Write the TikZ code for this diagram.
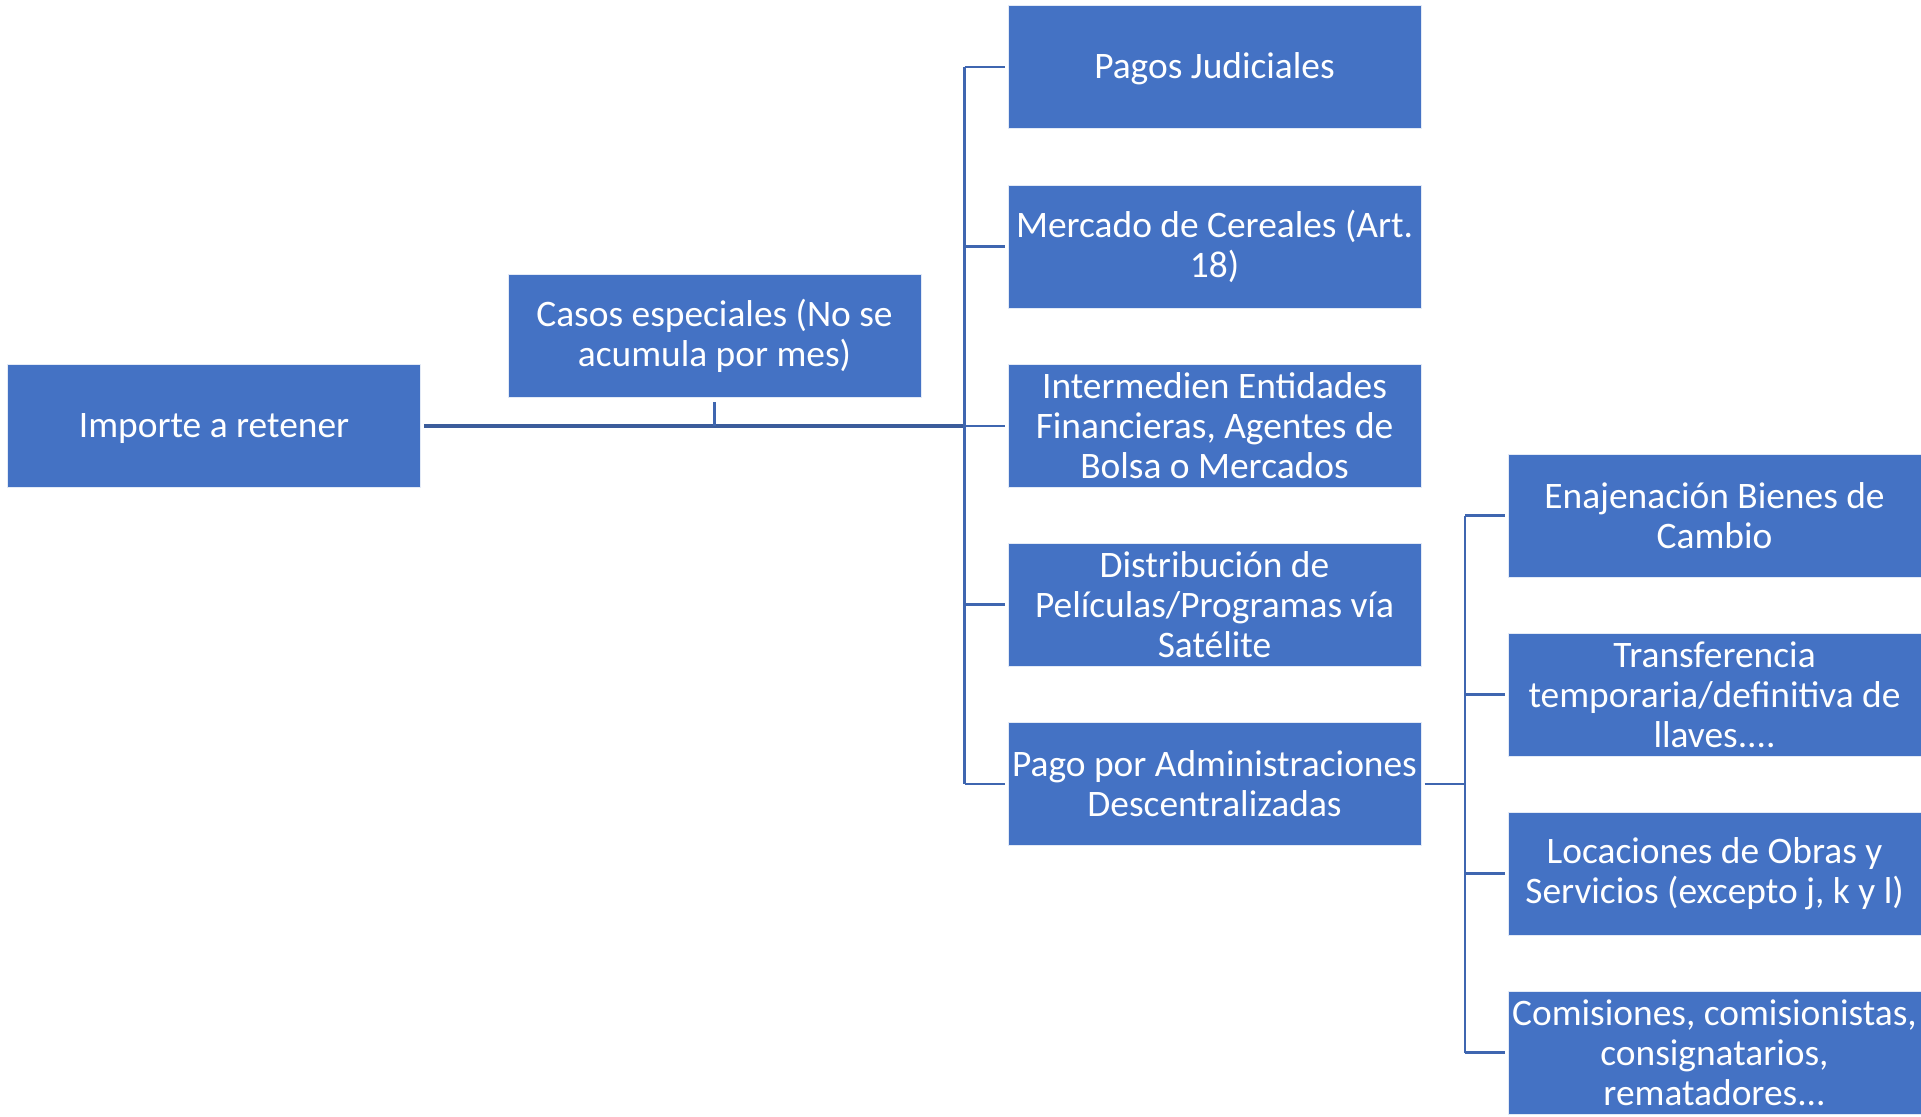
\documentclass[tikz,border=0pt]{standalone}
\usepackage{fontspec}
\setmainfont{Carlito}
\definecolor{boxfill}{HTML}{4472C4}
\definecolor{thickln}{HTML}{3B5C9B}
\definecolor{thinln}{HTML}{3F66B0}
\newcommand\lowertext[1]{\raisebox{-5.8pt}[0pt][0pt]{#1}}
\begin{document}
\begin{tikzpicture}[x=0.5pt,y=-0.5pt,
  box/.style={rectangle, fill=boxfill, draw=white!85!boxfill, line width=0.5pt,
    minimum width=206.5pt, minimum height=61.5pt, inner sep=0pt, align=center,
    text=white, font=\fontsize{18.7}{20}\selectfont},
  thinline/.style={draw=thinln, line width=1.25pt},
  thickline/.style={draw=thickln, line width=2pt}]
\useasboundingbox (0,0) rectangle (1921,1116);
% nodes
\node[box] (imp) at (214,426) {\lowertext{Importe a retener}};
\node[box] (casos) at (714.5,336) {Casos especiales (No se\\acumula por mes)};
\node[box] (n1) at (1214.5,67) {\lowertext{Pagos Judiciales}};
\node[box] (n2) at (1214.5,246.5) {Mercado de Cereales (Art.\\18)};
\node[box] (n3) at (1214.5,426) {Intermedien Entidades\\Financieras, Agentes de\\Bolsa o Mercados};
\node[box] (n4) at (1214.5,604.5) {Distribución de\\Películas/Programas vía\\Satélite};
\node[box] (n5) at (1214.5,784) {Pago por Administraciones\\Descentralizadas};
\node[box] (m1) at (1714.5,515.5) {Enajenación Bienes de\\Cambio};
\node[box] (m2) at (1714.5,694.5) {Transferencia\\temporaria/definitiva de\\llaves....};
\node[box] (m3) at (1714.5,873.5) {Locaciones de Obras y\\Servicios (excepto j, k y l)};
\node[box] (m4) at (1714.5,1052.5) {Comisiones, comisionistas,\\consignatarios,\\rematadores...};
% junction coordinates
\coordinate (t1) at (964.5,426);
\coordinate (t2) at (1465,784);
% connectors
\draw[thickline] ([xshift=1.5pt]imp.east) -- (t1);
\draw[thinline] ([yshift=-2pt]casos.south) -- (casos.south |- t1);
\draw[thinline] (t1 |- n1) -- (t1 |- n5);
\foreach \n in {n1,n2,n3,n4,n5}{
  \draw[thinline] (t1 |- \n) -- ([xshift=-1.5pt]\n.west);
}
\draw[thinline] ([xshift=1.5pt]n5.east) -- (t2);
\draw[thinline] (t2 |- m1) -- (t2 |- m4);
\foreach \m in {m1,m2,m3,m4}{
  \draw[thinline] (t2 |- \m) -- ([xshift=-1.5pt]\m.west);
}
\end{tikzpicture}
\end{document}
